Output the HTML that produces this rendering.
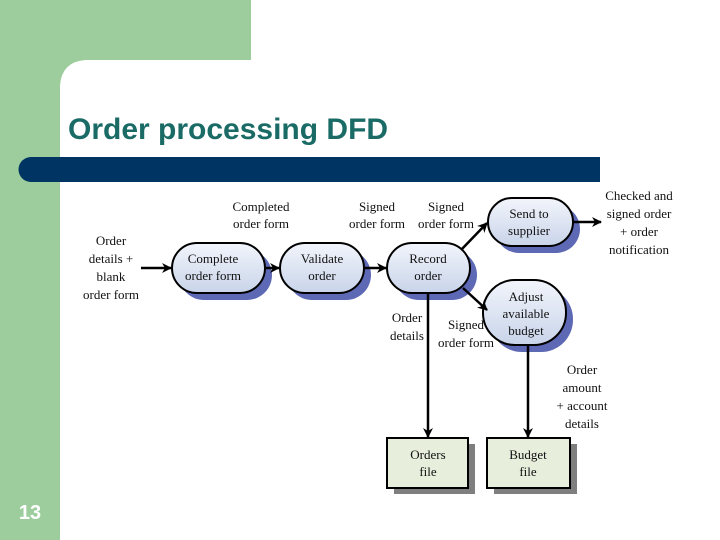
<!DOCTYPE html>
<html><head><meta charset="utf-8"><style>
html,body{margin:0;padding:0;width:720px;height:540px;overflow:hidden;background:#fff}
svg text{font-family:"Liberation Serif",serif;font-size:13px;fill:#111}
</style></head><body>
<svg width="720" height="540" viewBox="0 0 720 540" xmlns="http://www.w3.org/2000/svg">
<defs>
<marker id="ah" markerWidth="10" markerHeight="10" refX="9" refY="5" orient="auto" markerUnits="userSpaceOnUse"><path d="M0,0 L10,5 L0,10 L3,5 Z" fill="#000"/></marker>
<linearGradient id="pg" x1="0" y1="0" x2="0" y2="1"><stop offset="0" stop-color="#f2f5fb"/><stop offset="1" stop-color="#c9d4ea"/></linearGradient>
</defs>
<rect x="0" y="0" width="60" height="540" fill="#9dcc9d"/>
<rect x="0" y="0" width="251" height="60" fill="#9dcc9d"/>
<path d="M60,85 Q60,60 85,60 L85,60 L60,60 Z" fill="#9dcc9d"/>
<path d="M85,60 L60,60 L60,85 Q62,62 85,60 Z" fill="#9dcc9d"/>
<text x="68" y="139" style="font-family:'Liberation Sans',sans-serif;font-size:30px;font-weight:bold;fill:#1a6b66">Order processing DFD</text>
<path d="M31,157 L600,157 L600,182 L31,182 A12.5,12.5 0 0 1 31,157 Z" fill="#003462"/>
<text x="30" y="519" text-anchor="middle" style="font-family:'Liberation Sans',sans-serif;font-size:20px;font-weight:bold;fill:#fff">13</text>

<g stroke="#000" stroke-width="2">
<!-- shadows -->
<g fill="#5d69b5" stroke="none">
<rect x="179" y="250" width="93" height="50" rx="25"/>
<rect x="287" y="250" width="84" height="50" rx="25"/>
<rect x="394" y="250" width="83" height="50" rx="25"/>
<rect x="495" y="205" width="85" height="48" rx="24"/>
<rect x="490" y="287" width="83" height="65" rx="32"/>
</g>
<g fill="#7f7f7f" stroke="none">
<rect x="394" y="444" width="81" height="50"/>
<rect x="494" y="444" width="83" height="50"/>
</g>
<rect x="172" y="243" width="93" height="50" rx="25" fill="url(#pg)"/>
<rect x="280" y="243" width="84" height="50" rx="25" fill="url(#pg)"/>
<rect x="387" y="243" width="83" height="50" rx="25" fill="url(#pg)"/>
<rect x="488" y="198" width="85" height="48" rx="24" fill="url(#pg)"/>
<rect x="483" y="280" width="83" height="65" rx="32" fill="url(#pg)"/>
<rect x="387" y="438" width="81" height="50" fill="#e8eedc"/>
<rect x="487" y="438" width="83" height="50" fill="#e8eedc"/>
<g fill="none" marker-end="url(#ah)" stroke-width="2.5">
<line x1="141" y1="268" x2="171" y2="268"/>
<line x1="265" y1="268" x2="279" y2="268"/>
<line x1="364" y1="268" x2="386" y2="268"/>
<line x1="461" y1="250" x2="487" y2="223"/>
<line x1="573" y1="222" x2="601" y2="222"/>
<line x1="463" y1="288" x2="487" y2="310"/>
<line x1="428" y1="293" x2="428" y2="437"/>
<line x1="528" y1="345" x2="528" y2="437"/>
</g>
</g>
<g text-anchor="middle">
<text x="213" y="263">Complete</text><text x="213" y="280">order form</text>
<text x="322" y="263">Validate</text><text x="322" y="280">order</text>
<text x="428" y="263">Record</text><text x="428" y="280">order</text>
<text x="529" y="218">Send to</text><text x="529" y="235">supplier</text>
<text x="526" y="301">Adjust</text><text x="526" y="318">available</text><text x="526" y="335">budget</text>
<text x="428" y="459">Orders</text><text x="428" y="476">file</text>
<text x="528" y="459">Budget</text><text x="528" y="476">file</text>
<text x="111" y="245">Order</text><text x="111" y="263">details +</text><text x="111" y="281">blank</text><text x="111" y="299">order form</text>
<text x="261" y="211">Completed</text><text x="261" y="228">order form</text>
<text x="377" y="211">Signed</text><text x="377" y="228">order form</text>
<text x="446" y="211">Signed</text><text x="446" y="228">order form</text>
<text x="639" y="200">Checked and</text><text x="639" y="218">signed order</text><text x="639" y="236">+ order</text><text x="639" y="254">notification</text>
<text x="407" y="322">Order</text><text x="407" y="340">details</text>
<text x="466" y="329">Signed</text><text x="466" y="347">order form</text>
<text x="582" y="374">Order</text><text x="582" y="392">amount</text><text x="582" y="410">+ account</text><text x="582" y="428">details</text>
</g>
</svg>
</body></html>
